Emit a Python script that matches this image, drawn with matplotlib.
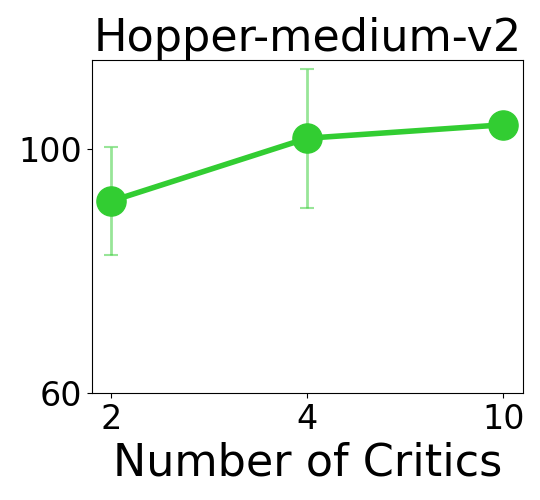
import matplotlib
matplotlib.use('Agg')
import matplotlib.pyplot as plt
import numpy as np

critics = ['2', '4', '10']
scores = [91.5, 101.8, 104.0]
errs = [8.8, 11.4, 1.2]

x = np.arange(len(critics))

fig = plt.figure(figsize=(5.4, 5.0), dpi=100)
ax = fig.add_axes([0.170, 0.2134, 0.798, 0.6676])

ax.errorbar(x, scores, yerr=errs, fmt='none', ecolor='#32cd32', alpha=0.5,
            elinewidth=2, capsize=5, capthick=1.5)
ax.plot(x, scores, color='#32cd32', linewidth=4, marker='o', markersize=21)

ax.set_xticks(x)
ax.set_xticklabels(critics)
ax.set_yticks([60, 100])
ax.set_ylim(60, 114.7)
ax.tick_params(labelsize=24)
ax.set_xlabel('Number of Critics', fontsize=32)
ax.set_title('Hopper-medium-v2', fontsize=32)

fig.savefig('out.png', dpi=100)
